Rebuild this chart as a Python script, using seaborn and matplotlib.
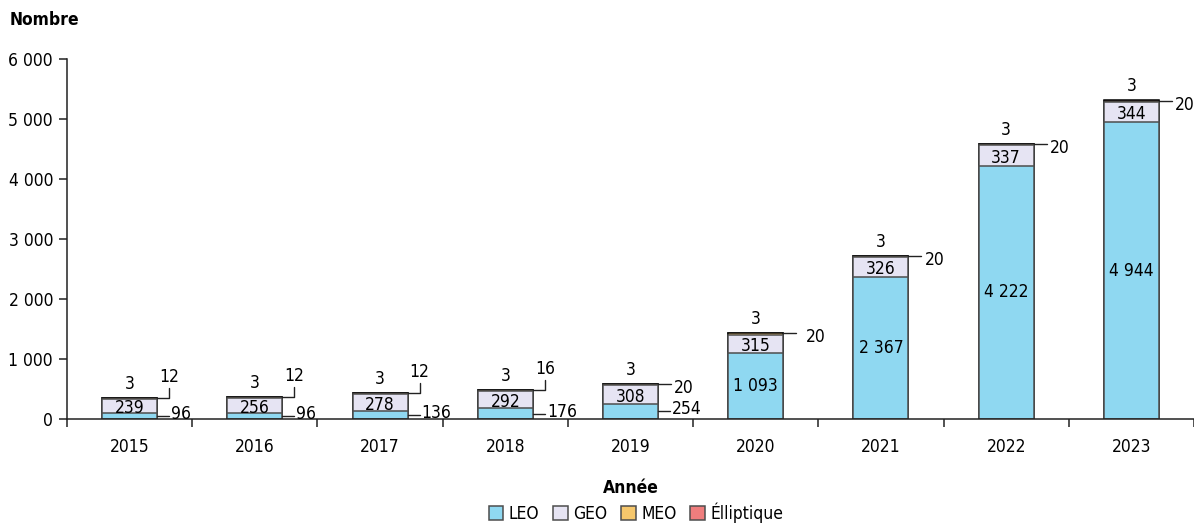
import pandas as pd
import matplotlib.pyplot as plt
import matplotlib.ticker as mticker
from matplotlib.patches import Patch
import seaborn as sns

# Data
years = ['2015', '2016', '2017', '2018', '2019', '2020', '2021', '2022', '2023']
leo = [96, 96, 136, 176, 254, 1093, 2367, 4222, 4944]
geo = [239, 256, 278, 292, 308, 315, 326, 337, 344]
meo = [12, 12, 12, 16, 20, 20, 20, 20, 20]
ell = [3, 3, 3, 3, 3, 3, 3, 3, 3]
series = ['LEO', 'GEO', 'MEO', 'Élliptique']

COLORS = {
    'LEO': '#8fd8f1',
    'GEO': '#e6e4f3',
    'MEO': '#f6c76c',
    'Élliptique': '#ef7d7d',
}
EDGE = '#4d4d4d'
# the two thin top segments read as a dark cap line in the original
EDGE_STYLE = {
    'LEO': EDGE,
    'GEO': EDGE,
    'MEO': '#111111',
    'Élliptique': '#000000',
}
LW = 1.1

sns.set_style('ticks')
plt.rcParams['font.family'] = ['DejaVu Sans']
plt.rcParams['font.stretch'] = 'condensed'
for k in ['text.color', 'axes.labelcolor', 'xtick.color', 'ytick.color']:
    plt.rcParams[k] = 'black'
FS = 12.5

df = pd.DataFrame({'Année': years, 'LEO': leo, 'GEO': geo, 'MEO': meo, 'Élliptique': ell})
df['top_LEO'] = df['LEO']
df['top_GEO'] = df['top_LEO'] + df['GEO']
df['top_MEO'] = df['top_GEO'] + df['MEO']
df['top_Élliptique'] = df['top_MEO'] + df['Élliptique']

W, H = 1194, 527
fig = plt.figure(figsize=(W / 100, H / 100), dpi=100)
ax = fig.add_axes([67 / W, 1 - 419 / H, 1127 / W, 360 / H])

BAR_W = 0.44
# draw cumulative totals back to front so they read as stacks
for s in reversed(series):
    sns.barplot(data=df, x='Année', y='top_' + s, color=COLORS[s], saturation=1,
                width=BAR_W, errorbar=None, edgecolor=EDGE_STYLE[s], linewidth=LW, ax=ax)

ax.set_xlim(-0.5, len(years) - 0.5)
ax.set_ylim(0, 6000)
ax.yaxis.set_major_locator(mticker.MultipleLocator(1000))
ax.yaxis.set_major_formatter(mticker.FuncFormatter(lambda v, _: f'{v:,.0f}'.replace(',', ' ')))
ax.xaxis.set_minor_locator(mticker.FixedLocator([i - 0.5 for i in range(len(years) + 1)]))
ax.tick_params(axis='x', which='major', length=0, pad=14, labelsize=FS)
ax.tick_params(axis='x', which='minor', length=6, width=1.1, color='#222222')
ax.tick_params(axis='y', length=6, width=1.1, color='#222222', pad=4, labelsize=FS)
for side in ['top', 'right']:
    ax.spines[side].set_visible(False)
for side in ['left', 'bottom']:
    ax.spines[side].set_linewidth(1.1)
    ax.spines[side].set_color('#222222')
ax.set_ylabel('')
ax.set_xlabel('Année', fontsize=FS, fontweight='bold', labelpad=16)
fig.text(10 / W, 1 - 20 / H, 'Nombre', fontsize=FS, fontweight='bold', va='center')

# pixel -> data unit helpers
px_x = len(years) / 1127
px_y = 6000 / 360


def fmt(v):
    return f'{v:,}'.replace(',', ' ')


line_kw = dict(color='#222222', lw=1.0, clip_on=False)
half = BAR_W / 2
for i, row in df.iterrows():
    right = i + half
    # Elliptique on top
    ax.text(i, row['top_Élliptique'] + 5 * px_y, fmt(row['Élliptique']),
            ha='center', va='bottom', fontsize=FS)
    # MEO
    if row['MEO'] < 20:
        x1 = right + 12 * px_x
        y0 = row['top_MEO']
        y1 = y0 + 10 * px_y
        ax.plot([right, x1, x1], [y0, y0, y1], **line_kw)
        ax.text(x1, y1 + 2 * px_y, fmt(row['MEO']), ha='center', va='bottom', fontsize=FS)
    else:
        y0 = row['top_MEO']
        gap = 10 if row['LEO'] > 1000 and row['LEO'] < 2000 else 3
        ax.plot([right, right + 13 * px_x], [y0, y0], **line_kw)
        ax.text(right + (13 + gap) * px_x, y0 - 4 * px_y, fmt(row['MEO']),
                ha='left', va='center', fontsize=FS, clip_on=False)
    # GEO in its segment
    ax.text(i, row['top_LEO'] + row['GEO'] / 2 - 2 * px_y, fmt(row['GEO']),
            ha='center', va='center', fontsize=FS)
    # LEO
    if row['LEO'] < 1000:
        y0 = row['LEO'] / 2
        ax.plot([right, right + 12 * px_x], [y0, y0], **line_kw)
        ax.text(right + 14 * px_x, y0 + 2 * px_y, fmt(row['LEO']),
                ha='left', va='center', fontsize=FS)
    else:
        ax.text(i, row['LEO'] / 2, fmt(row['LEO']), ha='center', va='center', fontsize=FS)

handles = [Patch(facecolor=COLORS[s], edgecolor=EDGE, linewidth=1.1, label=s) for s in series]
fig.legend(handles=handles, loc='center', bbox_to_anchor=(636 / W, 1 - 513 / H), ncol=4,
           frameon=False, fontsize=FS, handlelength=0.85, handleheight=0.85,
           handletextpad=0.3, columnspacing=0.8, borderpad=0)

fig.savefig('out.png', dpi=100)
